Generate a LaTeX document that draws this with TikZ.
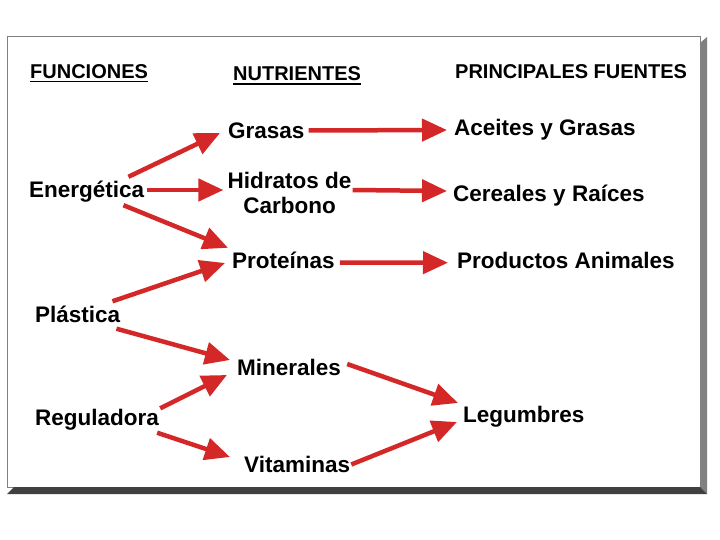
\documentclass[tikz,border=0pt]{standalone}
\usepackage{fontspec}
\setmainfont{Liberation Sans}
\usetikzlibrary{arrows.meta}

\definecolor{flecharoja}{RGB}{212,40,40}
\definecolor{marcogris}{RGB}{128,128,128}
\definecolor{sombra}{RGB}{64,64,64}

\tikzset{
  titulo/.style={anchor=west, inner sep=0pt, text height=14pt, text depth=0pt,
    font=\fontsize{20}{24}\selectfont\bfseries},
  texto/.style={anchor=west, inner sep=0pt, text height=16pt, text depth=0pt,
    font=\fontsize{22.5}{25}\selectfont\bfseries},
  flecha/.style={draw=flecharoja, line width=4.5pt, -{Triangle[length=25pt,width=22pt]}},
  subrayado/.style={line width=1.6pt}
}

\begin{document}
\begin{tikzpicture}[x=1pt,y=-1pt]
\fill[white] (0,0) rectangle (720,540);
% marco con sombra
\draw[marcogris, fill=white] (7,36) rectangle (700,487);
\fill[marcogris] (700,43) -- (707,37) -- (707,494) -- (700,487) -- cycle;
\fill[sombra] (7,494) -- (14,487) -- (700,487) -- (707,494) -- cycle;

% encabezados
\node[titulo] (fun) at (30,71.5) {FUNCIONES};
\node[titulo] (nut) at (233,74) {NUTRIENTES};
\node[titulo] (pf) at (455,71.5) {PRINCIPALES FUENTES};
\draw[subrayado] ([yshift=-3pt]fun.south west) -- ([yshift=-3pt]fun.south east);
\draw[subrayado] ([yshift=-3pt]nut.south west) -- ([yshift=-3pt]nut.south east);

% funciones
\node[texto] (ener) at (29,190) {Energética};
\node[texto] (plas) at (35,314.5) {Plástica};
\node[texto] (regu) at (35,417.5) {Reguladora};

% nutrientes
\node[texto] (gras) at (228,130.5) {Grasas};
\node[inner sep=0pt, align=center, font=\fontsize{22.5}{25}\selectfont\bfseries] (hid) at (289.5,193) {Hidratos de\\Carbono};
\node[texto] (prot) at (232,260.5) {Proteínas};
\node[texto] (mine) at (237,367.5) {Minerales};
\node[texto] (vita) at (244,464.5) {Vitaminas};

% fuentes
\node[texto] (acei) at (454,128) {Aceites y Grasas};
\node[texto] (cere) at (453,194) {Cereales y Raíces};
\node[texto] (prod) at (457,260) {Productos Animales};
\node[texto] (legu) at (463,414.5) {Legumbres};

% flechas
\draw[flecha] ([shift={(-16,-5)}]ener.north east) -- ([shift={(-8,2.5)}]gras.west);
\draw[flecha] ([shift={(3,0)}]ener.east) -- ([shift={(-4,-3)}]hid.west);
\draw[flecha] ([shift={(-21,7)}]ener.south east) -- ([shift={(-4,-4.5)}]prot.north west);
\draw[flecha] ([shift={(-8,-5)}]plas.north east) -- ([shift={(-7,2.5)}]prot.west);
\draw[flecha] ([shift={(-4,6)}]plas.south east) -- ([shift={(-7,-7.5)}]mine.west);
\draw[flecha] ([shift={(1,-1)}]regu.north east) -- ([shift={(-10,7.5)}]mine.west);
\draw[flecha] ([shift={(-2,7)}]regu.south east) -- ([shift={(-14,-7.5)}]vita.west);
\draw[flecha] ([shift={(4,0)}]gras.east) -- ([shift={(-7,2)}]acei.west);
\draw[flecha] ([shift={(1,-3)}]hid.east) -- ([shift={(-6,-3)}]cere.west);
\draw[flecha] ([shift={(5,2)}]prot.east) -- ([shift={(-9,2.7)}]prod.west);
\draw[flecha] ([shift={(6,-3.5)}]mine.east) -- ([shift={(-5,-11.5)}]legu.west);
\draw[flecha] ([shift={(1,0)}]vita.east) -- ([shift={(-6,7.5)}]legu.west);
\end{tikzpicture}
\end{document}
